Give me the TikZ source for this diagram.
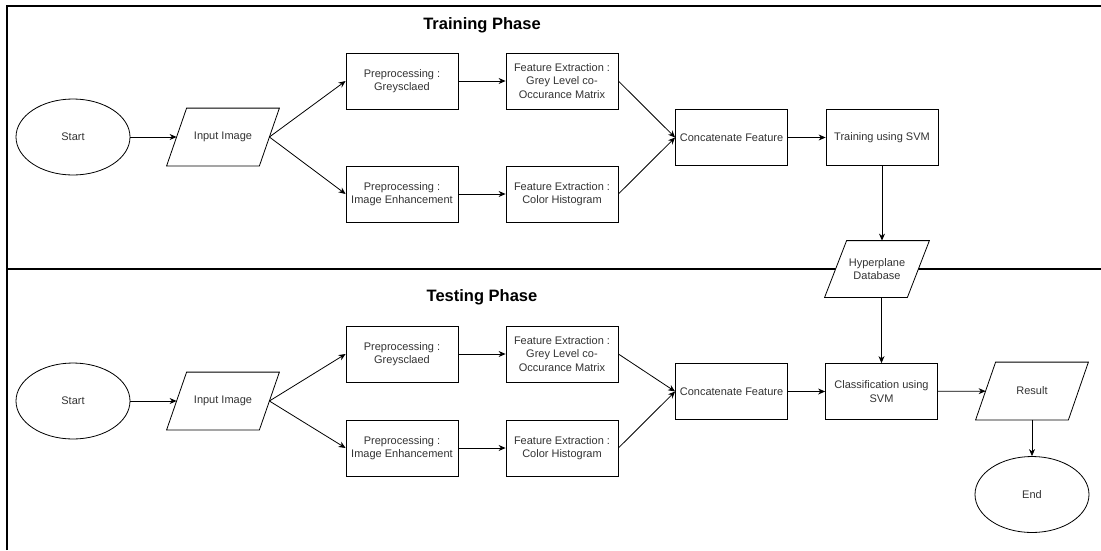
\documentclass[tikz,border=0pt]{standalone}
\usepackage{fontspec}
\setmainfont{Liberation Sans}
\usepackage{xcolor}
\usepackage{tikz}
\usetikzlibrary{shapes.geometric, arrows.meta}
\definecolor{txtgrey}{HTML}{333333}
\tikzset{
    box/.style = {draw, rectangle, fill=white, minimum width=112pt, minimum height=56pt,
        inner sep=1pt, align=center, text=txtgrey, font=\fontsize{11}{13.3}\selectfont},
    io/.style = {rectangle, minimum width=92pt, minimum height=57pt,
        inner sep=1pt, align=center, text=txtgrey, font=\fontsize{11}{13.3}\selectfont,
        append after command={\pgfextra{%
        \draw[fill=white] ([xshift=-#1pt]\tikzlastnode.south west) -- ([xshift=-#1pt]\tikzlastnode.south east)
            -- ([xshift=#1pt]\tikzlastnode.north east) -- ([xshift=#1pt]\tikzlastnode.north west) -- cycle;}}},
    io/.default = 10,
    term/.style = {draw, ellipse, fill=white, minimum width=114pt, minimum height=76pt,
        text=txtgrey, font=\fontsize{11}{13.3}\selectfont},
    phase/.style = {font=\fontsize{16.5}{20}\selectfont\bfseries},
}

\begin{document}
\begin{tikzpicture}[x=1pt, y=-1pt, line width=0.8pt, >={Stealth[length=7pt,width=6pt]}]
\useasboundingbox (0,0) rectangle (1101,550);
% frame
\draw[line width=1.2pt] (7,550) -- (7,6) -- (1101,6);
\draw[line width=1.2pt] (7,269) -- (1101,269);

% training
\node[phase] (TP) at (482,25) {Training Phase};
\node[term] (S1) at (73,137) {Start};
\node[io] (I1) at (223,137) {Input Image};
\node[box] (P1) at (402,81) {Preprocessing :\\Greysclaed};
\node[box] (P2) at (402,194) {Preprocessing :\\Image Enhancement};
\node[box] (F1) at (562,81) {Feature Extraction :\\Grey Level co-\\Occurance Matrix};
\node[box] (F2) at (562,194) {Feature Extraction :\\Color Histogram};
\node[box] (C1) at (731.5,137.5) {Concatenate Feature};
\node[box] (T1) at (882,137.5) {Training using SVM};
\node[io=11, minimum width=82pt, minimum height=56pt] (H) at (877,269) {Hyperplane\\Database};

\draw[->] (S1) -- (I1);
\draw[->] (I1.east) -- (P1.west);
\draw[->] (I1.east) -- (P2.west);
\draw[->] (P1) -- (F1);
\draw[->] (P2) -- (F2);
\draw[->] (F1.east) -- (C1.west);
\draw[->] (F2.east) -- (C1.west);
\draw[->] (C1) -- (T1);
\draw[->] (T1) -- (T1 |- H.north);

% testing
\node[phase] (EP) at (482,297) {Testing Phase};
\node[term] (S2) at (73,401) {Start};
\node[io] (I2) at (223,401) {Input Image};
\node[box] (P3) at (402,354) {Preprocessing :\\Greysclaed};
\node[box] (P4) at (402,448) {Preprocessing :\\Image Enhancement};
\node[box] (F3) at (562,354) {Feature Extraction :\\Grey Level co-\\Occurance Matrix};
\node[box] (F4) at (562,448) {Feature Extraction :\\Color Histogram};
\node[box] (C2) at (731.5,391.5) {Concatenate Feature};
\node[box] (K) at (881.5,391.5) {Classification using\\SVM};
\node[io] (R) at (1032,391) {Result};
\node[term] (End) at (1032,494.5) {End};

\draw[->] (S2) -- (I2);
\draw[->] (I2.east) -- (P3.west);
\draw[->] (I2.east) -- (P4.west);
\draw[->] (P3) -- (F3);
\draw[->] (P4) -- (F4);
\draw[->] (F3.east) -- (C2.west);
\draw[->] (F4.east) -- (C2.west);
\draw[->] (C2) -- (K);
\draw[->] (H.south -| K) -- (K);
\draw[->] (K) -- (R);
\draw[->] (R) -- (End);
\end{tikzpicture}
\end{document}
